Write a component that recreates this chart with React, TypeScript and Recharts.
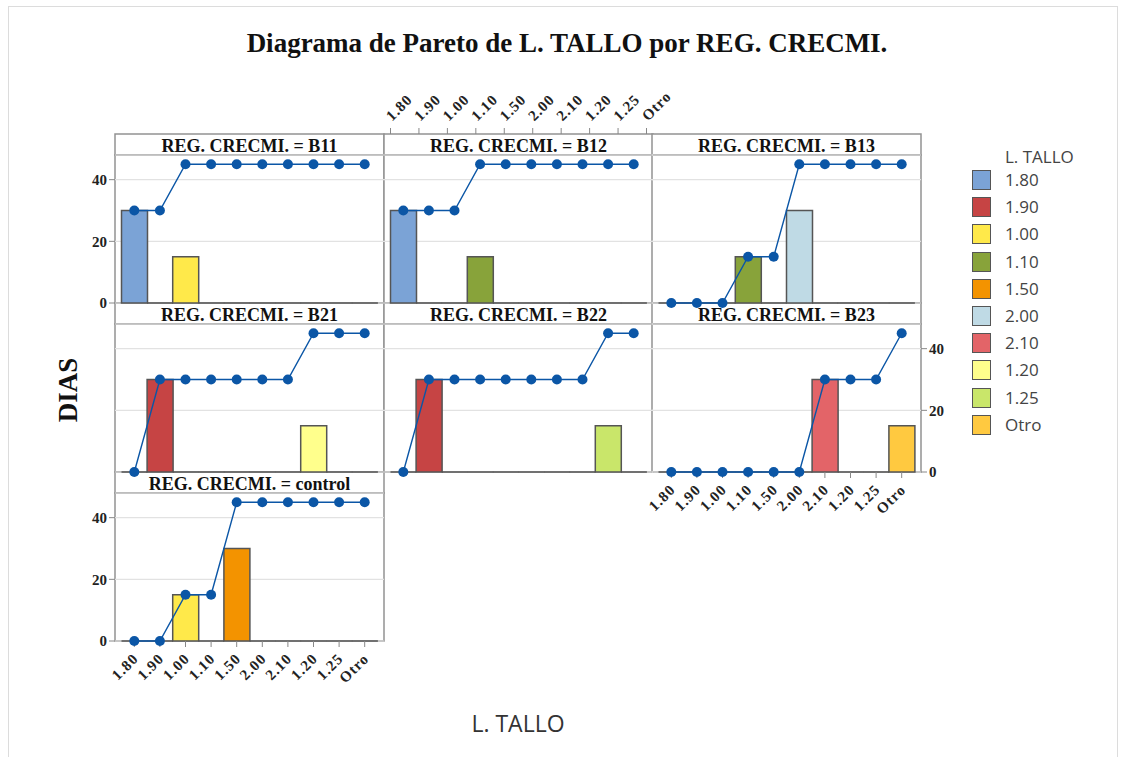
import React from "react";
import { ComposedChart, Bar, Line, XAxis, YAxis, CartesianGrid } from "recharts";

// L. TALLO categories, in Pareto order as shown
const CATEGORIES = ["1.80", "1.90", "1.00", "1.10", "1.50", "2.00", "2.10", "1.20", "1.25", "Otro"];
const COLORS = ["#7BA3D6", "#C64444", "#FFE94A", "#88A33A", "#F39300", "#BFDAE5", "#E36468", "#FFFF8C", "#C9E66A", "#FFC940"];

// DIAS per category and cumulative line for each REG. CRECMI.
const B11_DIAS = [30, 0, 15, 0, 0, 0, 0, 0, 0, 0];
const B11_CUM = [30, 30, 45, 45, 45, 45, 45, 45, 45, 45];
const B12_DIAS = [30, 0, 0, 15, 0, 0, 0, 0, 0, 0];
const B12_CUM = [30, 30, 30, 45, 45, 45, 45, 45, 45, 45];
const B13_DIAS = [0, 0, 0, 15, 0, 30, 0, 0, 0, 0];
const B13_CUM = [0, 0, 0, 15, 15, 45, 45, 45, 45, 45];
const B21_DIAS = [0, 30, 0, 0, 0, 0, 0, 15, 0, 0];
const B21_CUM = [0, 30, 30, 30, 30, 30, 30, 45, 45, 45];
const B22_DIAS = [0, 30, 0, 0, 0, 0, 0, 0, 15, 0];
const B22_CUM = [0, 30, 30, 30, 30, 30, 30, 30, 45, 45];
const B23_DIAS = [0, 0, 0, 0, 0, 0, 30, 0, 0, 15];
const B23_CUM = [0, 0, 0, 0, 0, 0, 30, 30, 30, 45];
const CONTROL_DIAS = [0, 0, 15, 0, 30, 0, 0, 0, 0, 0];
const CONTROL_CUM = [0, 0, 15, 15, 45, 45, 45, 45, 45, 45];

const Y_TICKS = [0, 20, 40];
const Y_MAX = 48;

const PANELS = [
  { label: "B11", dias: B11_DIAS, cum: B11_CUM, col: 0, row: 0, left: true },
  { label: "B12", dias: B12_DIAS, cum: B12_CUM, col: 1, row: 0 },
  { label: "B13", dias: B13_DIAS, cum: B13_CUM, col: 2, row: 0 },
  { label: "B21", dias: B21_DIAS, cum: B21_CUM, col: 0, row: 1 },
  { label: "B22", dias: B22_DIAS, cum: B22_CUM, col: 1, row: 1 },
  { label: "B23", dias: B23_DIAS, cum: B23_CUM, col: 2, row: 1, right: true, bottom: true },
  { label: "control", dias: CONTROL_DIAS, cum: CONTROL_CUM, col: 0, row: 2, left: true, bottom: true },
];

// layout (page px)
const COL_X = [115, 384, 652];
const ROW_Y = [134, 303, 472];
const STRIP_H = 21;
const PLOT_W = 269;
const PLOT_H = 148;
const M = 80;
const AXIS_W = 40;
const AXIS_H = 60;
const PAD = { left: 6.5, right: 6.5 };

const SERIF = "'Liberation Serif', 'Times New Roman', serif";
const SANS = "'Open Sans', 'Noto Sans', sans-serif";
const LINE_BLUE = "#0B56A6";
const FRAME = "#929292";

function BarShape(props: any) {
  const { x, y, width, height, payload } = props;
  const i = CATEGORIES.indexOf(payload.cat);
  const h = Math.max(0, height || 0);
  const d = `M${x},${y} h${width} v${h} h${-width} Z`;
  return <path d={d} fill={COLORS[i]} stroke="#555" strokeWidth={1.5} />;
}

function BottomTick({ x, y, payload }: any) {
  return (
    <g transform={`translate(${x},${y})`}>
      <text
        transform="rotate(-45)"
        textAnchor="end"
        x={-4}
        y={11}
        fill="#222"
        fontFamily={SERIF}
        fontWeight="bold"
        fontSize={15}
        letterSpacing={1}
      >
        {payload.value}
      </text>
    </g>
  );
}

function TopTick({ x, y, payload }: any) {
  return (
    <g transform={`translate(${x},${y})`}>
      <text
        transform="rotate(-45)"
        textAnchor="start"
        x={4}
        y={-2}
        fill="#222"
        fontFamily={SERIF}
        fontWeight="bold"
        fontSize={15}
        letterSpacing={1}
      >
        {payload.value}
      </text>
    </g>
  );
}

const yTickStyle = { fill: "#222", fontFamily: SERIF, fontWeight: "bold" as const, fontSize: 15 };

function Panel({ p }: { p: any }) {
  const data = CATEGORIES.map((c, i) => ({ cat: c, dias: p.dias[i], cum: p.cum[i] }));
  const left = COL_X[p.col];
  const top = ROW_Y[p.row] + STRIP_H;
  const showY = !!(p.left || p.right);
  return (
    <div style={{ position: "absolute", left: left - M, top: top - M }}>
      <ComposedChart
        width={PLOT_W + 2 * M}
        height={PLOT_H + 2 * M}
        data={data}
        barCategoryGap={0}
        margin={{
          top: M,
          right: p.right ? M - AXIS_W : M,
          bottom: p.bottom ? M - AXIS_H : M,
          left: p.left ? M - AXIS_W : M,
        }}
      >
        <CartesianGrid vertical={false} stroke="#e2e2e2" strokeWidth={1.2} />
        <XAxis
          dataKey="cat"
          hide={!p.bottom}
          height={AXIS_H}
          padding={PAD}
          interval={0}
          axisLine={false}
          tickLine={{ stroke: "#888" }}
          tickSize={6}
          tick={<BottomTick />}
        />
        <YAxis
          hide={!showY}
          orientation={p.right ? "right" : "left"}
          width={AXIS_W}
          domain={[0, Y_MAX]}
          ticks={Y_TICKS}
          axisLine={false}
          tickLine={{ stroke: "#888" }}
          tickSize={6}
          tick={yTickStyle}
        />
        <Bar dataKey="dias" shape={BarShape} isAnimationActive={false} />
        <Line
          type="linear"
          dataKey="cum"
          stroke={LINE_BLUE}
          strokeWidth={1.4}
          dot={{ r: 5, fill: LINE_BLUE, stroke: LINE_BLUE, strokeWidth: 0 }}
          activeDot={false}
          isAnimationActive={false}
        />
      </ComposedChart>
    </div>
  );
}

// top category axis above column 2, sitting on top of the strip
function TopAxis() {
  const data = CATEGORIES.map((c, i) => ({ cat: c, cum: B12_CUM[i] }));
  const left = COL_X[1];
  const top = ROW_Y[0];
  const h = STRIP_H + PLOT_H;
  return (
    <div style={{ position: "absolute", left: left - M, top: top - M }}>
      <ComposedChart
        width={PLOT_W + 2 * M}
        height={h + 2 * M}
        data={data}
        margin={{ top: M - AXIS_H, right: M, bottom: M, left: M }}
      >
        <XAxis
          dataKey="cat"
          orientation="top"
          height={AXIS_H}
          padding={PAD}
          interval={0}
          axisLine={false}
          tickLine={{ stroke: "#888" }}
          tickSize={6}
          tick={<TopTick />}
        />
        <YAxis hide domain={[0, Y_MAX]} />
        <Line dataKey="cum" stroke="none" dot={false} activeDot={false} isAnimationActive={false} />
      </ComposedChart>
    </div>
  );
}

function Frames() {
  return (
    <svg width={1123} height={757} style={{ position: "absolute", left: 0, top: 0 }}>
      {PANELS.map((p) => {
        const x = COL_X[p.col];
        const y = ROW_Y[p.row];
        return (
          <g key={p.label}>
            <rect x={x} y={y} width={PLOT_W} height={STRIP_H} fill="#fff" stroke={FRAME} strokeWidth={1.5} />
            <rect x={x} y={y + STRIP_H} width={PLOT_W} height={PLOT_H} fill="#fff" stroke={FRAME} strokeWidth={1.5} />
            <text
              x={x + PLOT_W / 2}
              y={y + STRIP_H - 3}
              textAnchor="middle"
              fontFamily={SERIF}
              fontWeight="bold"
              fontSize={18}
              fill="#111"
            >
              {`REG. CRECMI. = ${p.label}`}
            </text>
          </g>
        );
      })}
    </svg>
  );
}

function Legend() {
  return (
    <div style={{ position: "absolute", left: 972, top: 146, fontFamily: SANS, fontSize: 17, color: "#444" }}>
      <div style={{ position: "absolute", left: 33, top: 0, whiteSpace: "nowrap", lineHeight: "22px" }}>L. TALLO</div>
      {CATEGORIES.map((c, i) => (
        <div key={c} style={{ position: "absolute", left: 0, top: 24 + i * 27.2, whiteSpace: "nowrap", height: 21 }}>
          <div
            style={{
              position: "absolute",
              left: 0,
              top: 0,
              width: 17,
              height: 18,
              background: COLORS[i],
              border: "1.5px solid #555",
            }}
          />
          <div style={{ position: "absolute", left: 33, top: -1, lineHeight: "22px" }}>{c}</div>
        </div>
      ))}
    </div>
  );
}

export default function App() {
  return (
    <div style={{ position: "absolute", left: 0, top: 0, width: 1123, height: 757, background: "#fff", overflow: "hidden" }}>
      <div style={{ position: "absolute", left: 8, top: 6, width: 1108, height: 760, border: "1px solid #dcdcdc" }} />
      <Frames />
      {PANELS.map((p) => (
        <Panel key={p.label} p={p} />
      ))}
      <TopAxis />
      <div
        style={{
          position: "absolute",
          left: 167,
          width: 800,
          top: 28,
          textAlign: "center",
          fontFamily: SERIF,
          fontWeight: "bold",
          fontSize: 27,
          color: "#111",
          whiteSpace: "nowrap",
        }}
      >
        Diagrama de Pareto de L. TALLO por REG. CRECMI.
      </div>
      <div
        style={{
          position: "absolute",
          left: 68 - 40,
          top: 390 - 16,
          width: 80,
          height: 32,
          lineHeight: "32px",
          textAlign: "center",
          transform: "rotate(-90deg)",
          fontFamily: SERIF,
          fontWeight: "bold",
          fontSize: 27,
          color: "#111",
        }}
      >
        DIAS
      </div>
      <div
        style={{
          position: "absolute",
          left: 418,
          width: 200,
          top: 707,
          textAlign: "center",
          fontFamily: SANS,
          fontSize: 23,
          color: "#333",
        }}
      >
        L. TALLO
      </div>
      <Legend />
    </div>
  );
}
